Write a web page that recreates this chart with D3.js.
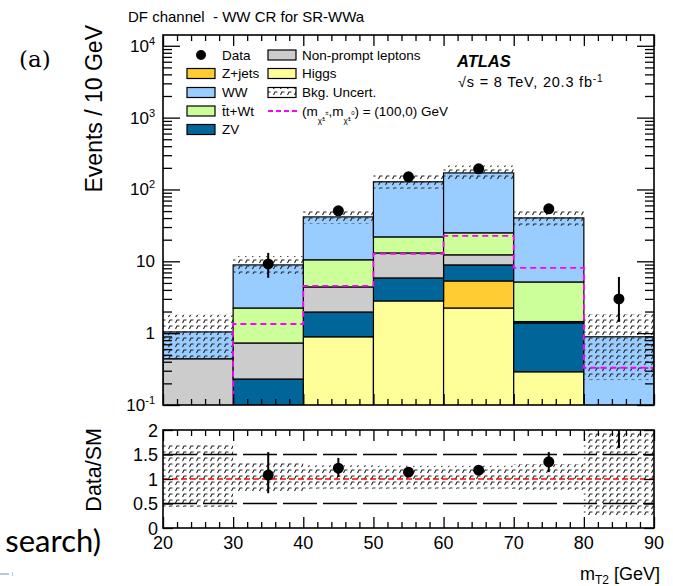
<!DOCTYPE html>
<html>
<head>
<meta charset="utf-8">
<script src="https://cdn.jsdelivr.net/npm/d3@7"></script>
<style>
  body { margin: 0; background: #fff; }
  svg text { font-family: "Liberation Sans", Arial, sans-serif; fill: #000; white-space: pre; }
</style>
</head>
<body>
<svg id="chart" width="673" height="586"></svg>
<script>
// bins of m_T2 [GeV]
const binEdges = [20, 30, 40, 50, 60, 70, 80, 90];

// background components (events / bin), bottom of the stack first
const higgs     = [0,    0,    0.89, 2.81, 2.24,  0.29, 0];
const zJets     = [0,    0,    0,    0,    3.09,  0,    0];
const zv        = [0,    0.23, 1.08, 3.06, 3.58,  1.10, 0];
const nonPrompt = [0.44, 0.50, 2.43, 7.2,  3.4,   0.06, 0];
const ttWt      = [0,    1.51, 6.1,  8.8,  12.6,  3.71, 0];
const ww        = [0.60, 6.67, 31.0, 106,  145,   35.0, 0.89];

// relative background uncertainty (up / down)
const bkgUncUp   = [0.73, 0.33, 0.28, 0.27, 0.27, 0.30, 1.05];
const bkgUncDown = [0.57, 0.25, 0.20, 0.20, 0.20, 0.22, 0.75];

// signal (m_chargino, m_neutralino) = (100,0) GeV
const signal = [0.05, 1.34, 4.54, 12.7, 22.6, 8.09, 0.33];

// data
const dataVals = [null, 9.2, 50.4, 150, 194, 53.7, 3.0];
const dataUp   = [0, 3.9, 7.1, 12.2, 14.0, 7.3, 3.06];
const dataDown = [0, 3.3, 7.1, 12.2, 14.0, 7.3, 1.57];

// ratio panel
const ratioVals = [null, 1.08, 1.22, 1.14, 1.18, 1.35, 3.4];
const ratioUp   = [0, 0.47, 0.21, 0.10, 0.10, 0.20, 3.4];
const ratioDown = [0, 0.37, 0.18, 0.10, 0.10, 0.21, 1.77];

const yMajor = [0.1, 1, 10, 100, 1000, 10000];
const yMajorLabels = [['10', '-1'], ['1', ''], ['10', ''], ['10', '2'], ['10', '3'], ['10', '4']];
const xMajor = [20, 30, 40, 50, 60, 70, 80, 90];
const ratioTicks = [0, 0.5, 1, 1.5, 2];
const ratioLabels = ['0', '0.5', '1', '1.5', '2'];

const keys = ['Higgs', 'Z+jets', 'ZV', 'Non-prompt leptons', 'tt+Wt', 'WW'];
const colors = {
  'Higgs': '#ffff99',
  'Z+jets': '#ffcc33',
  'ZV': '#006699',
  'Non-prompt leptons': '#cccccc',
  'tt+Wt': '#ccff99',
  'WW': '#99ccff'
};

const left = 163, right = 654;
const mainTop = 35, mainBot = 405;
const ratioTop = 430, ratioBot = 528;

const svg = d3.select('#chart');

const x = d3.scaleLinear().domain([20, 90]).range([left, right]);
const y = d3.scaleLog().domain([0.1, Math.pow(10, 4.15)]).range([mainBot, mainTop]);
const yr = d3.scaleLinear().domain([0, 2]).range([ratioBot, ratioTop]);
const yc = v => y(Math.max(v, 0.03));

const defs = svg.append('defs');
defs.append('clipPath').attr('id', 'clipMain')
  .append('rect').attr('x', left).attr('y', mainTop)
  .attr('width', right - left).attr('height', mainBot - mainTop);
defs.append('clipPath').attr('id', 'clipRatio')
  .append('rect').attr('x', left).attr('y', ratioTop)
  .attr('width', right - left).attr('height', ratioBot - ratioTop);

const hatch = defs.append('pattern').attr('id', 'hatch')
  .attr('patternUnits', 'userSpaceOnUse')
  .attr('width', 7).attr('height', 6);
hatch.append('path')
  .attr('d', 'M0.5,5 L2,2 L4.5,2')
  .attr('fill', 'none').attr('stroke', '#222').attr('stroke-width', 1.1);

// ---------- main panel ----------
const rows = binEdges.slice(0, -1).map((e, i) => ({
  'Higgs': higgs[i], 'Z+jets': zJets[i], 'ZV': zv[i],
  'Non-prompt leptons': nonPrompt[i], 'tt+Wt': ttWt[i], 'WW': ww[i]
}));
const stacked = d3.stack().keys(keys)(rows);
const totals = rows.map(r => d3.sum(keys, k => r[k]));

const main = svg.append('g').attr('clip-path', 'url(#clipMain)');

stacked.forEach(function (series) {
  main.append('g').selectAll('rect')
    .data(series.map((d, i) => ({ lo: d[0], hi: d[1], i: i })).filter(d => d.hi - d.lo > 0))
    .enter().append('rect')
    .attr('x', d => x(binEdges[d.i]))
    .attr('width', d => x(binEdges[d.i + 1]) - x(binEdges[d.i]))
    .attr('y', d => yc(d.hi))
    .attr('height', d => yc(d.lo) - yc(d.hi))
    .attr('fill', colors[series.key])
    .attr('stroke', '#000')
    .attr('stroke-width', 1.2);
});

// uncertainty band
main.append('g').selectAll('rect')
  .data(totals)
  .enter().append('rect')
  .attr('x', (d, i) => x(binEdges[i]))
  .attr('width', (d, i) => x(binEdges[i + 1]) - x(binEdges[i]))
  .attr('y', (d, i) => yc(d * (1 + bkgUncUp[i])))
  .attr('height', (d, i) => yc(d * (1 - bkgUncDown[i])) - yc(d * (1 + bkgUncUp[i])))
  .attr('fill', 'url(#hatch)');

// signal line
const sigPts = signal.map((v, i) => [binEdges[i], v]).concat([[90, signal[signal.length - 1]]]);
main.append('path')
  .attr('d', d3.line().x(d => x(d[0])).y(d => yc(d[1])).curve(d3.curveStepAfter)(sigPts))
  .attr('fill', 'none')
  .attr('stroke', '#ff00ff')
  .attr('stroke-width', 1.8)
  .attr('stroke-dasharray', '6,4');

// data
const dataPts = dataVals.map((v, i) => ({ v: v, i: i, c: (binEdges[i] + binEdges[i + 1]) / 2 }))
  .filter(d => d.v !== null);
const dataG = svg.append('g').attr('clip-path', 'url(#clipMain)');
dataG.selectAll('line').data(dataPts).enter().append('line')
  .attr('x1', d => x(d.c)).attr('x2', d => x(d.c))
  .attr('y1', d => y(d.v + dataUp[d.i]))
  .attr('y2', d => y(d.v - dataDown[d.i]))
  .attr('stroke', '#000').attr('stroke-width', 2);
dataG.selectAll('circle').data(dataPts).enter().append('circle')
  .attr('cx', d => x(d.c)).attr('cy', d => y(d.v)).attr('r', 5.5)
  .attr('fill', '#000');

// main ticks
function noDomain(g) { g.select('.domain').remove(); }
const yMinor = [];
for (let e = -1; e <= 4; e++) for (let k = 2; k <= 9; k++) {
  const v = k * Math.pow(10, e);
  if (v < y.domain()[1]) yMinor.push(v);
}
const xMinor = d3.range(20, 90.1, 2).filter(v => v % 10 !== 0);

function xTicks(yPos, dir) {
  const ax = dir === 'up' ? d3.axisTop : d3.axisBottom;
  svg.append('g').attr('transform', `translate(0,${yPos})`)
    .call(ax(x).tickValues(xMajor).tickSize(11).tickFormat(''))
    .call(noDomain);
  svg.append('g').attr('transform', `translate(0,${yPos})`)
    .call(ax(x).tickValues(xMinor).tickSize(6).tickFormat(''))
    .call(noDomain);
}
xTicks(mainBot, 'up');
xTicks(mainTop, 'down');
svg.append('g').attr('transform', `translate(${left},0)`)
  .call(d3.axisRight(y).tickValues(yMajor).tickSize(17).tickFormat('')).call(noDomain);
svg.append('g').attr('transform', `translate(${left},0)`)
  .call(d3.axisRight(y).tickValues(yMinor).tickSize(9).tickFormat('')).call(noDomain);
svg.append('g').attr('transform', `translate(${right},0)`)
  .call(d3.axisLeft(y).tickValues(yMajor).tickSize(17).tickFormat('')).call(noDomain);
svg.append('g').attr('transform', `translate(${right},0)`)
  .call(d3.axisLeft(y).tickValues(yMinor).tickSize(9).tickFormat('')).call(noDomain);
svg.selectAll('.tick line').attr('stroke', '#000').attr('stroke-width', 1.3);

svg.append('rect').attr('x', left).attr('y', mainTop)
  .attr('width', right - left).attr('height', mainBot - mainTop)
  .attr('fill', 'none').attr('stroke', '#000').attr('stroke-width', 1.6);

// main y labels
yMajor.forEach(function (v, i) {
  const t = svg.append('text')
    .attr('x', 155).attr('y', y(v) + 6)
    .attr('text-anchor', 'end')
    .style('font-size', '17px');
  t.append('tspan').text(yMajorLabels[i][0]);
  if (yMajorLabels[i][1]) {
    t.append('tspan').attr('dy', -7).style('font-size', '11px').text(yMajorLabels[i][1]);
  }
});

svg.append('text')
  .attr('transform', 'translate(102,25) rotate(-90)')
  .attr('text-anchor', 'end')
  .style('font-size', '23px')
  .text('Events / 10 GeV');

svg.append('text')
  .attr('x', 128).attr('y', 22)
  .style('font-size', '15px')
  .text('DF channel  - WW CR for SR-WWa');

svg.append('text')
  .attr('x', 19).attr('y', 67)
  .style('font-family', '"DejaVu Serif", "Liberation Serif", serif')
  .style('font-size', '23px')
  .text('(a)');

svg.append('text')
  .attr('x', 457).attr('y', 67)
  .style('font-size', '16.5px').style('font-weight', 'bold').style('font-style', 'italic')
  .text('ATLAS');
const energy = svg.append('text')
  .attr('x', 458).attr('y', 87)
  .style('font-size', '14.5px').style('letter-spacing', '0.8px');
energy.append('tspan').text('\u221As = 8 TeV, 20.3 fb');
energy.append('tspan').attr('dy', -5).style('font-size', '10px').text('-1');

// legend
const legendFont = '13.5px';
const legendLeft = [
  { label: 'Data', type: 'dot' },
  { label: 'Z+jets', type: 'box', color: colors['Z+jets'] },
  { label: 'WW', type: 'box', color: colors['WW'] },
  { label: 't\u0304t+Wt', type: 'box', color: colors['tt+Wt'] },
  { label: 'ZV', type: 'box', color: colors['ZV'] }
];
const legendRight = [
  { label: 'Non-prompt leptons', type: 'box', color: colors['Non-prompt leptons'] },
  { label: 'Higgs', type: 'box', color: colors['Higgs'] },
  { label: 'Bkg. Uncert.', type: 'hatch' },
  { label: 'signal', type: 'line' }
];
const rowY = [55, 73.5, 92.5, 111, 129.5];

function legendCol(items, bx, tx) {
  items.forEach(function (d, i) {
    const cy = rowY[i];
    if (d.type === 'dot') {
      svg.append('circle').attr('cx', bx + 14).attr('cy', cy).attr('r', 5).attr('fill', '#000');
    } else if (d.type === 'box' || d.type === 'hatch') {
      svg.append('rect').attr('x', bx).attr('y', cy - 5).attr('width', 28).attr('height', 10)
        .attr('fill', d.type === 'box' ? d.color : 'url(#hatch)')
        .attr('stroke', '#000').attr('stroke-width', 1.2);
    } else {
      svg.append('line').attr('x1', bx).attr('x2', bx + 29).attr('y1', cy).attr('y2', cy)
        .attr('stroke', '#ff00ff').attr('stroke-width', 1.8).attr('stroke-dasharray', '5,3');
    }
    const t = svg.append('text').attr('x', tx).attr('y', cy + 4.5).style('font-size', legendFont);
    if (d.type === 'line') {
      t.append('tspan').text('(m');
      t.append('tspan').attr('dy', 7).style('font-size', '8px').text('\u03c7\u0303');
      t.append('tspan').attr('dy', -2).style('font-size', '6px').text('1');
      t.append('tspan').attr('dy', -6).style('font-size', '6px').text('\u00b1');
      t.append('tspan').attr('dy', 1).text(',m');
      t.append('tspan').attr('dy', 7).style('font-size', '8px').text('\u03c7\u0303');
      t.append('tspan').attr('dy', -2).style('font-size', '6px').text('1');
      t.append('tspan').attr('dy', -6).style('font-size', '6px').text('0');
      t.append('tspan').attr('dy', 1).text(') = (100,0) GeV');
    } else {
      t.text(d.label);
    }
  });
}
legendCol(legendLeft, 187, 222);
legendCol(legendRight, 268, 302);

// ---------- ratio panel ----------
const ratio = svg.append('g').attr('clip-path', 'url(#clipRatio)');
ratio.append('g').selectAll('rect')
  .data(totals)
  .enter().append('rect')
  .attr('x', (d, i) => x(binEdges[i]))
  .attr('width', (d, i) => x(binEdges[i + 1]) - x(binEdges[i]))
  .attr('y', (d, i) => yr(1 + bkgUncUp[i]))
  .attr('height', (d, i) => yr(1 - bkgUncDown[i]) - yr(1 + bkgUncUp[i]))
  .attr('fill', 'url(#hatch)');

[0.5, 1.5].forEach(function (v) {
  ratio.append('line')
    .attr('x1', left).attr('x2', right).attr('y1', yr(v)).attr('y2', yr(v))
    .attr('stroke', '#000').attr('stroke-width', 1.3).attr('stroke-dasharray', '34,6');
});
ratio.append('line')
  .attr('x1', left).attr('x2', right).attr('y1', yr(1)).attr('y2', yr(1))
  .attr('stroke', '#ff0000').attr('stroke-width', 1.6).attr('stroke-dasharray', '6,3');

const ratioPts = ratioVals.map((v, i) => ({ v: v, i: i, c: (binEdges[i] + binEdges[i + 1]) / 2 }))
  .filter(d => d.v !== null);
ratio.selectAll('line.err').data(ratioPts).enter().append('line')
  .attr('class', 'err')
  .attr('x1', d => x(d.c)).attr('x2', d => x(d.c))
  .attr('y1', d => yr(d.v + ratioUp[d.i]))
  .attr('y2', d => yr(d.v - ratioDown[d.i]))
  .attr('stroke', '#000').attr('stroke-width', 2);
ratio.selectAll('circle').data(ratioPts).enter().append('circle')
  .attr('cx', d => x(d.c)).attr('cy', d => yr(d.v)).attr('r', 5.5)
  .attr('fill', '#000');

xTicks(ratioBot, 'up');
xTicks(ratioTop, 'down');
svg.append('g').attr('transform', `translate(${left},0)`)
  .call(d3.axisRight(yr).tickValues(ratioTicks).tickSize(10).tickFormat('')).call(noDomain);
svg.append('g').attr('transform', `translate(${right},0)`)
  .call(d3.axisLeft(yr).tickValues(ratioTicks).tickSize(10).tickFormat('')).call(noDomain);
svg.selectAll('.tick line').attr('stroke', '#000').attr('stroke-width', 1.3);

svg.append('rect').attr('x', left).attr('y', ratioTop)
  .attr('width', right - left).attr('height', ratioBot - ratioTop)
  .attr('fill', 'none').attr('stroke', '#000').attr('stroke-width', 1.6);

svg.append('g').selectAll('text').data(ratioTicks).enter().append('text')
  .attr('x', 158).attr('y', d => yr(d) + 6.5)
  .attr('text-anchor', 'end')
  .style('font-size', '18px')
  .text((d, i) => ratioLabels[i]);

svg.append('g').selectAll('text').data(xMajor).enter().append('text')
  .attr('x', d => x(d)).attr('y', 549)
  .attr('text-anchor', 'middle')
  .style('font-size', '18px')
  .text(d => d);

svg.append('text')
  .attr('transform', 'translate(101,428) rotate(-90)')
  .attr('text-anchor', 'end')
  .style('font-size', '21.5px')
  .text('Data/SM');

const xTitle = svg.append('text')
  .attr('x', 660).attr('y', 580)
  .attr('text-anchor', 'end')
  .style('font-size', '18px');
xTitle.append('tspan').text('m');
xTitle.append('tspan').attr('dy', 4).style('font-size', '12px').text('T2');
xTitle.append('tspan').attr('dy', -4).text(' [GeV]');

// slide remnants
svg.append('text')
  .attr('x', 101).attr('y', 552)
  .attr('text-anchor', 'end')
  .style('font-family', 'Lato, "Open Sans", sans-serif')
  .style('font-size', '31px')
  .text('search)');
svg.append('rect').attr('x', 0).attr('y', 573).attr('width', 9).attr('height', 2).attr('fill', '#b8c8dc');
svg.append('rect').attr('x', 12).attr('y', 572).attr('width', 1).attr('height', 4).attr('fill', '#b8c8dc');
</script>
</body>
</html>
